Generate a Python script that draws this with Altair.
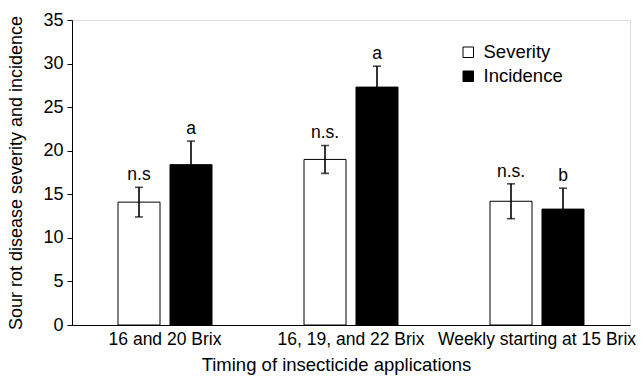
import altair as alt
import pandas as pd

groups = ["16 and 20 Brix", "16, 19, and 22 Brix", "Weekly starting at 15 Brix"]
severity = [14.1, 19.0, 14.2]
severity_err = [1.7, 1.6, 2.0]
severity_lbl = ["n.s", "n.s.", "n.s."]
incidence = [18.4, 27.3, 13.3]
incidence_err = [2.7, 2.4, 2.4]
incidence_lbl = ["a", "a", "b"]
series = ["Severity", "Incidence"]

rows = []
for i, g in enumerate(groups):
    rows.append(dict(group=g, series="Severity", value=severity[i], err=severity_err[i], lbl=severity_lbl[i]))
    rows.append(dict(group=g, series="Incidence", value=incidence[i], err=incidence_err[i], lbl=incidence_lbl[i]))
df = pd.DataFrame(rows)
df["lo"] = df["value"] - df["err"]
df["hi"] = df["value"] + df["err"]

FONT = "Liberation Sans"

x = alt.X("group:N", sort=groups, scale=alt.Scale(paddingInner=0, paddingOuter=0),
          axis=alt.Axis(title="Timing of insecticide applications", labelAngle=0, ticks=False,
                        labelFontSize=17.5, titleFontSize=18.5, labelPadding=5, titlePadding=8,
                        labelLimit=0, labelOverlap=False, labelBound=False, titleX=264,
                        labelColor="black", titleColor="black", titleFontWeight="normal",
                        labelFont=FONT, titleFont=FONT, domainColor="black"))
xo = alt.XOffset("series:N", sort=series, scale=alt.Scale(domain=series, paddingInner=0.192, paddingOuter=0.885))
yscale = alt.Scale(domain=[0, 35], nice=False)

base = alt.Chart(df)

bars = base.mark_bar(stroke="black", strokeWidth=1).encode(
    x=x, xOffset=xo,
    y=alt.Y("value:Q", scale=yscale,
            axis=alt.Axis(title="Sour rot disease severity and incidence", values=[0, 5, 10, 15, 20, 25, 30, 35],
                          grid=False, labelFontSize=18, titleFontSize=18, tickSize=5, tickColor="black",
                          domainColor="black", labelColor="black", titleColor="black", labelPadding=4,
                          titleFontWeight="normal", labelFont=FONT, titleFont=FONT, titlePadding=17)),
    fill=alt.Fill("series:N", sort=series,
                  scale=alt.Scale(domain=series, range=["white", "black"]),
                  legend=alt.Legend(title=None, orient="none", legendX=387, legendY=23,
                                    symbolType="square", symbolSize=110, symbolStrokeColor="black",
                                    symbolStrokeWidth=1, labelFontSize=18.5, labelFont=FONT,
                                    labelColor="black", rowPadding=5, labelOffset=6, symbolOpacity=1)),
)

rules = base.mark_rule(color="black", strokeWidth=1.6).encode(
    x=x, xOffset=xo, y=alt.Y("lo:Q", scale=yscale), y2="hi:Q")

caps_hi = base.mark_tick(color="black", size=8, thickness=1.6).encode(
    x=x, xOffset=xo, y=alt.Y("hi:Q", scale=yscale))
caps_lo = base.mark_tick(color="black", size=8, thickness=1.6).encode(
    x=x, xOffset=xo, y=alt.Y("lo:Q", scale=yscale))

labels = base.mark_text(baseline="bottom", dy=-3, fontSize=17.5, font=FONT, color="black").encode(
    x=x, xOffset=xo, y=alt.Y("hi:Q", scale=yscale), text="lbl:N")

chart = (bars + rules + caps_hi + caps_lo + labels).properties(
    width=558, height=305,
    autosize=alt.AutoSizeParams(type="none"),
    padding={"left": 72, "top": 20, "right": 14, "bottom": 55},
).configure_view(stroke="black", strokeWidth=1).configure(background="white")

chart.save("out.html", embed_options={"renderer": "svg", "actions": False})
